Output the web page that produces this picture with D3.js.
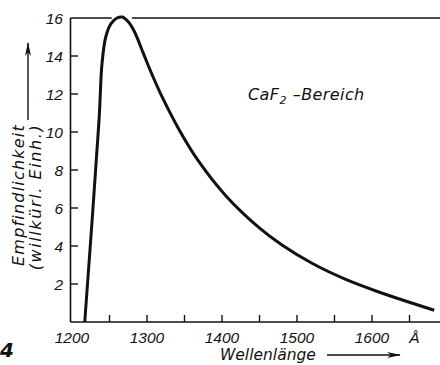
<!DOCTYPE html>
<html>
<head>
<meta charset="utf-8">
<script src="https://cdn.jsdelivr.net/npm/d3@7"></script>
<style>
  body { margin: 0; background: #fff; }
  text { font-family: "DejaVu Sans", sans-serif; font-style: italic; fill: #111; }
  .num { font-family: "Liberation Sans", Arial, sans-serif; }
</style>
</head>
<body>
<div id="chart"></div>
<script>
// Data
const wavelength = [1217, 1236, 1240, 1245, 1252, 1260, 1267, 1275, 1283, 1295, 1307, 1320, 1343, 1369, 1405, 1449, 1480, 1520, 1565, 1609, 1683];
const sensitivity = [0, 10.6, 13.6, 15.0, 15.7, 16.0, 16.05, 15.8, 15.3, 14.15, 13.0, 11.86, 10.11, 8.45, 6.65, 4.98, 4.05, 3.09, 2.24, 1.58, 0.62];
const xTicks = [1250, 1300, 1350, 1400, 1450, 1500, 1550, 1600, 1650];
const xTickLabels = [1200, 1300, 1400, 1500, 1600];
const yTicks = [2, 4, 6, 8, 10, 12, 14];
const yTickLabels = [2, 4, 6, 8, 10, 12, 14, 16];

const width = 440;
const height = 365;

const svg = d3.select("#chart").append("svg")
    .attr("width", width)
    .attr("height", height);

const x = d3.scaleLinear().domain([1200, 1690]).range([72, 439.5]);
const y = d3.scaleLinear().domain([0, 16]).range([322, 18]);

const ink = "#111";

// Frame: left axis, bottom axis, top line (broken where the peak touches it)
svg.append("line")
    .attr("x1", 70.5).attr("x2", 70.5)
    .attr("y1", y(16)).attr("y2", y(0))
    .attr("stroke", ink).attr("stroke-width", 1.6);
svg.append("line")
    .attr("x1", 70.5).attr("x2", width)
    .attr("y1", y(0)).attr("y2", y(0))
    .attr("stroke", ink).attr("stroke-width", 1.6);
const peakW = wavelength[sensitivity.indexOf(d3.max(sensitivity))];
[[70.5, x(peakW - 14)], [x(peakW + 13), width]].forEach(([a, b]) => {
    svg.append("line")
        .attr("x1", a).attr("x2", b)
        .attr("y1", y(16)).attr("y2", y(16))
        .attr("stroke", ink).attr("stroke-width", 1.6);
});

// Ticks (inward)
svg.selectAll(".ytick").data(yTicks).join("line")
    .attr("class", "ytick")
    .attr("x1", 70.5).attr("x2", 78)
    .attr("y1", d => y(d)).attr("y2", d => y(d))
    .attr("stroke", ink).attr("stroke-width", 1.4);
svg.selectAll(".xtick").data(xTicks).join("line")
    .attr("class", "xtick")
    .attr("x1", d => x(d)).attr("x2", d => x(d))
    .attr("y1", y(0)).attr("y2", y(0) - 7)
    .attr("stroke", ink).attr("stroke-width", 1.4);

// Tick labels
svg.selectAll(".ylab").data(yTickLabels).join("text")
    .attr("class", "ylab num")
    .attr("x", 63)
    .attr("y", d => y(d) + 5.5)
    .attr("text-anchor", "end")
    .attr("font-size", 15.5)
    .text(d => d);
svg.selectAll(".xlab").data(xTickLabels).join("text")
    .attr("class", "xlab num")
    .attr("x", d => x(d))
    .attr("y", 343)
    .attr("text-anchor", "middle")
    .attr("font-size", 15.5)
    .text(d => d);
svg.append("text")
    .attr("class", "num")
    .attr("x", x(1650) + 5)
    .attr("y", 343)
    .attr("text-anchor", "middle")
    .attr("font-size", 15.5)
    .text("Å");

// Curve
const line = d3.line()
    .x((d, i) => x(wavelength[i]))
    .y(d => y(d))
    .curve(d3.curveCatmullRom.alpha(0.5));
svg.append("path")
    .datum(sensitivity)
    .attr("d", line)
    .attr("fill", "none")
    .attr("stroke", ink)
    .attr("stroke-width", 3)
    .attr("stroke-linejoin", "round");

// Annotation
const ann = svg.append("text")
    .attr("x", 248).attr("y", 100)
    .attr("font-size", 16)
    .attr("letter-spacing", 0.4);
ann.append("tspan").text("CaF");
ann.append("tspan").attr("font-size", 11).attr("dy", 4).text("2");
ann.append("tspan").attr("dy", -4).attr("dx", 6).text("\u2013Bereich");

// Arrow head
svg.append("defs").append("marker")
    .attr("id", "arrow")
    .attr("viewBox", "0 0 14 8")
    .attr("refX", 13).attr("refY", 4)
    .attr("markerWidth", 14).attr("markerHeight", 8)
    .attr("markerUnits", "userSpaceOnUse")
    .attr("orient", "auto")
    .append("path")
    .attr("d", "M0,1 L14,4 L0,7 L4,4 Z")
    .attr("fill", ink);

// x title
svg.append("text")
    .attr("x", 220).attr("y", 360)
    .attr("font-size", 15.5)
    .text("Wellenlänge");
svg.append("line")
    .attr("x1", 327).attr("x2", 400)
    .attr("y1", 355).attr("y2", 355)
    .attr("stroke", ink).attr("stroke-width", 1.4)
    .attr("marker-end", "url(#arrow)");

// y title
svg.append("text")
    .attr("transform", "translate(24,195) rotate(-90)")
    .attr("text-anchor", "middle")
    .attr("font-size", 16)
    .attr("letter-spacing", 1.2)
    .text("Empfindlichkeit");
svg.append("text")
    .attr("transform", "translate(41,197) rotate(-90)")
    .attr("text-anchor", "middle")
    .attr("font-size", 16)
    .attr("letter-spacing", 1.6)
    .text("(willkürl. Einh.)");
svg.append("line")
    .attr("x1", 28).attr("x2", 28)
    .attr("y1", 120).attr("y2", 43)
    .attr("stroke", ink).attr("stroke-width", 1.4)
    .attr("marker-end", "url(#arrow)");

// figure number
svg.append("text")
    .attr("x", 0).attr("y", 357)
    .attr("font-family", "Liberation Serif, serif")
    .attr("font-style", "normal")
    .attr("font-weight", "bold")
    .attr("font-size", 20)
    .text("4");
</script>
</body>
</html>
